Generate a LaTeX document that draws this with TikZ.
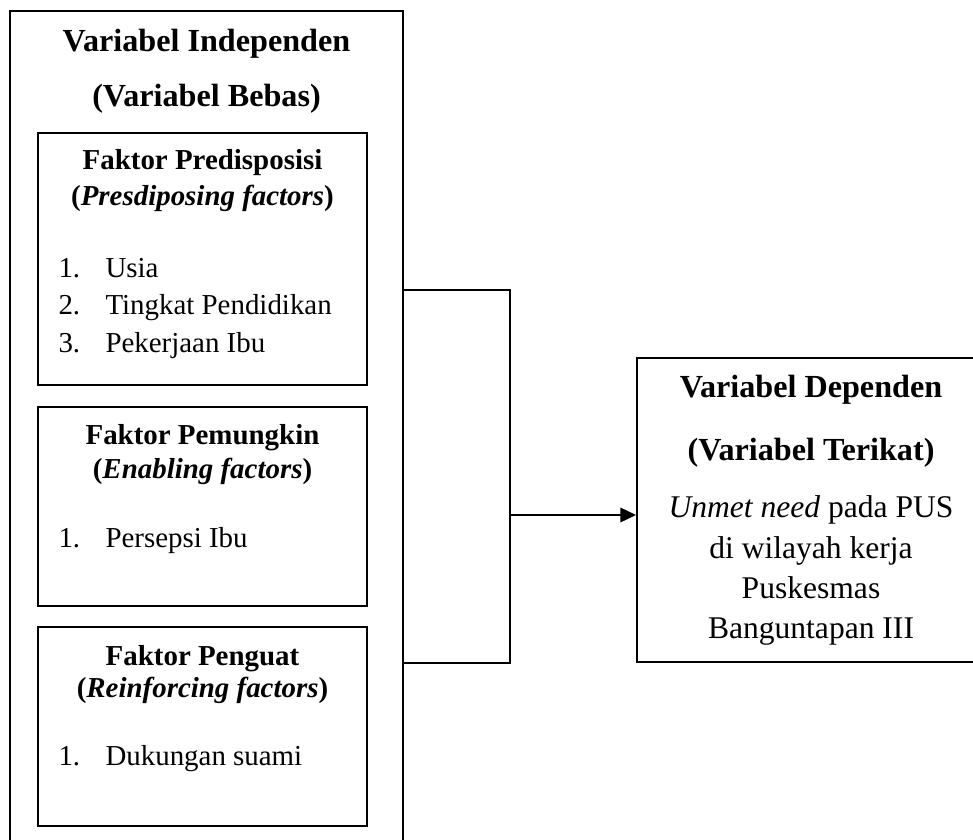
\documentclass[tikz,border=0pt]{standalone}
\usepackage{fontspec}
\setmainfont{Liberation Serif}
\usetikzlibrary{
  arrows.meta,
  fit,
}
\newcommand{\numitem}[2]{\makebox[19.5pt][l]{#1}#2}

\begin{document}
\begin{tikzpicture}[
    x=0.415pt, y=-0.415pt,
    frame/.style={draw, line width=0.8pt, inner sep=0pt},
    bighead/.style={font=\fontsize{13.35}{15}\selectfont\bfseries, anchor=base},
    subhead/.style={font=\fontsize{12}{14}\selectfont\bfseries, anchor=base},
    listitem/.style={font=\fontsize{12}{14}\selectfont, anchor=base west},
    deptext/.style={font=\fontsize{13.1}{16.6}\selectfont, anchor=base},
  ]
  \useasboundingbox (0,0) rectangle (973,840);
  \clip (0,0) rectangle (973,840);

  % variabel independen
  \node[frame, fit={(10,11) (403,860)}] (indep) {};
  \node[bighead] (indepA) at (206.5,52)  {Variabel Independen};
  \node[bighead] (indepB) at (206.5,107) {(Variabel Bebas)};

  % faktor predisposisi
  \node[frame, fit={(38,133) (367,385)}] (predis) {};
  \node[subhead] (predisA) at (202.5,170) {Faktor Predisposisi};
  \node[subhead] (predisB) at (202.5,206) {(\textit{Presdiposing factors})};
  \node[listitem] (predis1) at (50,278) {\numitem{1.}{Usia}};
  \node[listitem] (predis2) at (50,315) {\numitem{2.}{Tingkat Pendidikan}};
  \node[listitem] (predis3) at (50,352) {\numitem{3.}{Pekerjaan Ibu}};

  % faktor pemungkin
  \node[frame, fit={(38,407) (367,606)}] (pemungkin) {};
  \node[subhead] (pemungkinA) at (202.5,445) {Faktor Pemungkin};
  \node[subhead] (pemungkinB) at (202.5,478) {(\textit{Enabling factors})};
  \node[listitem] (pemungkin1) at (50,547) {\numitem{1.}{Persepsi Ibu}};

  % faktor penguat
  \node[frame, fit={(38,627) (367,826)}] (penguat) {};
  \node[subhead] (penguatA) at (202.5,665) {Faktor Penguat};
  \node[subhead] (penguatB) at (202.5,697) {(\textit{Reinforcing factors})};
  \node[listitem] (penguat1) at (50,765) {\numitem{1.}{Dukungan suami}};

  % variabel dependen
  \node[frame, fit={(637,358) (985,662)}] (dep) {};
  \node[bighead] (depA) at (811,398) {Variabel Dependen};
  \node[bighead] (depB) at (811,460) {(Variabel Terikat)};
  \node[deptext] (dep1) at (811,517) {\textit{Unmet need} pada PUS};
  \node[deptext] (dep2) at (811,558) {di wilayah kerja};
  \node[deptext] (dep3) at (811,598) {Puskesmas};
  \node[deptext] (dep4) at (811,638) {Banguntapan III};

  % penghubung
  \coordinate (jtop) at (510,290);
  \coordinate (jmid) at (510,515);
  \coordinate (jbot) at (510,663);
  \draw[line width=0.8pt] (jtop -| indep.east) -- (jtop) -- (jbot) -- (jbot -| indep.east);
  \draw[line width=0.8pt, -{Triangle[length=6.5pt, width=6pt]}] (jmid) -- (jmid -| dep.west);
\end{tikzpicture}
\end{document}
